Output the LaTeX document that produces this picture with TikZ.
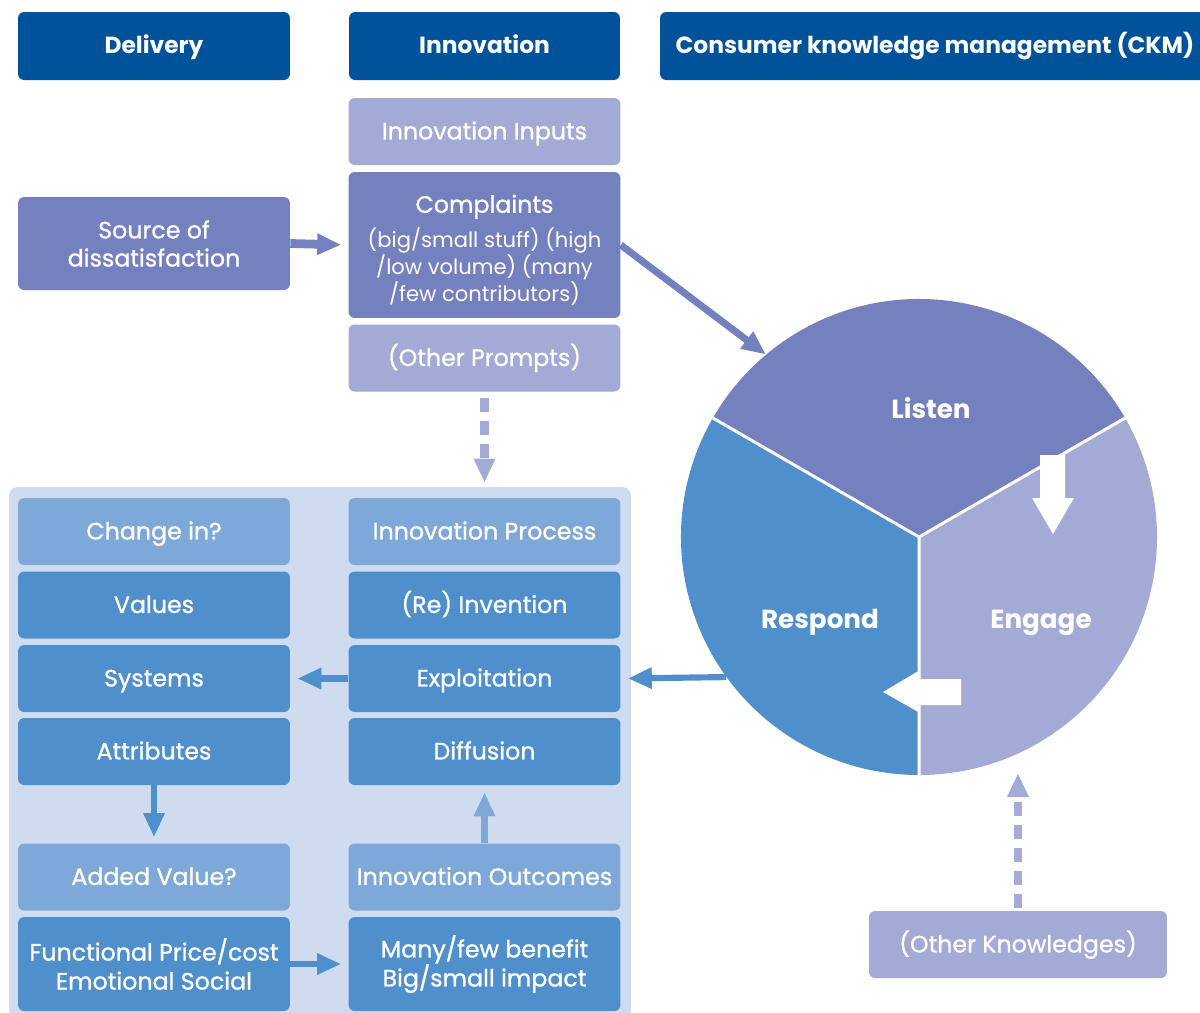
\documentclass[tikz,border=0pt]{standalone}
\usepackage{fontspec}
\setmainfont{Poppins}
\newfontfamily\medfont{Poppins}[FakeBold=1]
\usetikzlibrary{arrows.meta}

\definecolor{hdrblue}{RGB}{0,82,155}
\definecolor{purpdark}{RGB}{117,128,190}
\definecolor{purplite}{RGB}{164,170,214}
\definecolor{bluemid}{RGB}{79,143,203}
\definecolor{bluelite}{RGB}{125,168,215}
\definecolor{panelbg}{RGB}{207,220,240}

\tikzset{
    boxlabel/.style={text=white, align=center, inner sep=0pt, rounded corners=3.5pt,
        minimum width=5.44cm, minimum height=1.34cm, text height=1.95ex, text depth=0.3ex,
        font=\medfont\fontsize{13.5}{16}\selectfont},
    twoline/.style={text height=, text depth=},
    hdr/.style={boxlabel, fill=hdrblue, minimum height=1.36cm, font=\bfseries\fontsize{13.3}{16}\selectfont},
    pdark/.style={boxlabel, fill=purpdark},
    plite/.style={boxlabel, fill=purplite},
    bmid/.style={boxlabel, fill=bluemid},
    blite/.style={boxlabel, fill=bluelite},
    sector/.style={text=white, text height=1.95ex, text depth=0.3ex, font=\bfseries\fontsize{14.9}{17}\selectfont},
    thickarrow/.style={line width=#1, -{Triangle[width=0.4cm, length=0.48cm]}},
    dasharrow/.style={thickarrow=4.6pt, draw=purplite, dash pattern=on 8pt off 5pt}
}
\newcommand{\subtxt}{\fontspec{Poppins}\fontsize{12}{14}\selectfont}

\begin{document}
\begin{tikzpicture}[x=0.02cm, y=-0.02cm]
    \useasboundingbox (0,0) rectangle (1200,1012);

    % headers
    \node[hdr, minimum width=5.44cm] (dlv) at (154,46) {Delivery};
    \node[hdr, minimum width=5.42cm] (inv) at (484.5,46) {Innovation};
    \node[hdr, minimum width=11cm] (ckmh) at (935,46) {Consumer knowledge management (CKM)};

    % innovation inputs
    \node[plite] (inp) at (484.5,131.5) {Innovation Inputs};
    \node[pdark, twoline, minimum height=2.92cm, font=\medfont\fontsize{13.5}{14}\selectfont] (cmp) at (484.5,245)
        {\raisebox{0pt}[\dimexpr\height+5.7pt\relax]{Complaints}\\[3.7pt]
        {\subtxt(big/small stuff) (high}\\{\subtxt/low volume) (many}\\{\subtxt/few contributors)}};
    \node[pdark, twoline, minimum height=1.86cm] (src) at (154,243.5) {Source of\\dissatisfaction};
    \node[plite] (oth) at (484.5,358) {(Other Prompts)};

    % panel
    \fill[panelbg, rounded corners=5pt] (9,1040) -- (9,487) -- (631,487) -- (631,1040);

    \node[blite] (chg) at (154,531.5) {Change in?};
    \node[bmid] (val) at (154,605) {Values};
    \node[bmid] (sys) at (154,678.5) {Systems};
    \node[bmid] (att) at (154,751.5) {Attributes};
    \node[blite] (adv) at (154,877) {Added Value?};
    \node[bmid, twoline, minimum height=1.88cm, font=\medfont\fontsize{13.5}{16.5}\selectfont] (fun) at (154,964) {Functional Price/cost\\Emotional Social};

    \node[blite] (prc) at (484.5,531.5) {Innovation Process};
    \node[bmid] (rei) at (484.5,605) {(Re) Invention};
    \node[bmid] (exp) at (484.5,678.5) {Exploitation};
    \node[bmid] (dif) at (484.5,751.5) {Diffusion};
    \node[blite] (out) at (484.5,877) {Innovation Outcomes};
    \node[bmid, twoline, minimum height=1.88cm, font=\medfont\fontsize{13.5}{16.5}\selectfont] (man) at (484.5,964) {Many/few benefit\\Big/small impact};

    \node[plite, minimum width=5.96cm] (okn) at (1018,944.5) {(Other Knowledges)};

    % CKM wheel
    \fill[purpdark] (919,537) -- ++(-30:238) arc[start angle=-30, end angle=-150, radius=238] -- cycle;
    \fill[bluemid] (919,537) -- ++(-150:238) arc[start angle=-150, end angle=-270, radius=238] -- cycle;
    \fill[purplite] (919,537) -- ++(90:238) arc[start angle=90, end angle=-30, radius=238] -- cycle;
    \draw[white, line width=1.7pt] (919,537) -- ++(-30:238) (919,537) -- ++(-150:238) (919,537) -- ++(90:238);
    \node[circle, minimum size=9.52cm, inner sep=0pt] (ckm) at (919,537) {};
    \node[sector] (lst) at (931,411) {Listen};
    \node[sector] (rsp) at (820,621) {Respond};
    \node[sector] (eng) at (1041,621) {Engage};
    \fill[white] (1040,455) -- (1065,455) -- (1065,498) -- (1074,498) -- (1053,534) -- (1032,498) -- (1040,498) -- cycle;
    \fill[white] (961,679) -- (961,705) -- (920,705) -- (920,713) -- (883,692) -- (920,670) -- (920,679) -- cycle;
    \coordinate (engtip) at (1018,773);

    % connectors
    \draw[thickarrow=5pt, draw=purpdark, shorten >=0.14cm] (src.east) -- (cmp.west);
    \draw[thickarrow=4pt, draw=purpdark] (cmp.east) -- (ckm.130);
    \draw[dasharrow, shorten <=0.12cm, shorten >=0.3cm] (oth.south) -- (prc.north);
    \draw[dasharrow, shorten <=0.06cm] (okn.north) -- (engtip);
    \draw[thickarrow=3.5pt, draw=bluemid, shorten >=0.14cm] (exp.west) -- (sys.east);
    \draw[thickarrow=3.5pt, draw=bluemid, shorten >=0.14cm] (ckm.216.4) -- (exp.east);
    \draw[thickarrow=3.5pt, draw=bluemid, shorten >=0.12cm] (att.south) -- (adv.north);
    \draw[thickarrow=3.5pt, draw=bluelite, shorten >=0.14cm] (out.north) -- (dif.south);
    \draw[thickarrow=3.5pt, draw=bluemid, shorten >=0.14cm] (fun.east) -- (man.west);
\end{tikzpicture}
\end{document}
